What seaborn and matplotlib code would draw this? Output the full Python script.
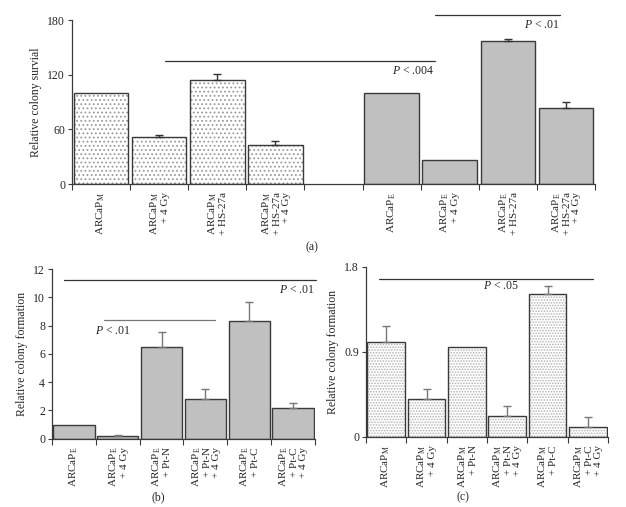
import numpy as np
import pandas as pd
import matplotlib
matplotlib.use("Agg")
import matplotlib.pyplot as plt
from matplotlib.patches import Rectangle
import seaborn as sns

sns.set_style("ticks")
plt.rcParams['font.family'] = ['Liberation Serif', 'DejaVu Serif']
plt.rcParams['mathtext.fontset'] = 'custom'
plt.rcParams['mathtext.rm'] = 'Liberation Serif'
plt.rcParams['mathtext.it'] = 'Liberation Serif:italic'
plt.rcParams['hatch.linewidth'] = 0.8
plt.rcParams['font.size'] = 8

M = r"ARCaP$_{\mathrm{M}}$"
E = r"ARCaP$_{\mathrm{E}}$"

# Panel (a): relative colony survival
a_labels = [M, M + "\n+ 4 Gy", M + "\n+ HS-27a", M + "\n+ HS-27a\n+ 4 Gy", "",
            E, E + "\n+ 4 Gy", E + "\n+ HS-27a", E + "\n+ HS-27a\n+ 4 Gy"]
a_line = ["M", "M", "M", "M", "", "E", "E", "E", "E"]
a_values = [100, 52, 114.5, 42.5, np.nan, 100, 26, 157, 83.5]
a_err = [0, 1.5, 6.5, 4.5, 0, 0, 0, 2.5, 6.5]

# Panel (b): ARCaP_E relative colony formation
b_labels = [E, E + "\n+ 4 Gy", E + "\n+ Pt-N", E + "\n+ Pt-N\n+ 4 Gy", E + "\n+ Pt-C", E + "\n+ Pt-C\n+ 4 Gy"]
b_values = [1.0, 0.22, 6.5, 2.8, 8.3, 2.15]
b_err = [0, 0.07, 1.05, 0.7, 1.35, 0.4]

# Panel (c): ARCaP_M relative colony formation
c_labels = [M, M + "\n+ 4 Gy", M + "\n+ Pt-N", M + "\n+ Pt-N\n+ 4 Gy", M + "\n+ Pt-C", M + "\n+ Pt-C\n+ 4 Gy"]
c_values = [1.0, 0.40, 0.95, 0.22, 1.51, 0.10]
c_err = [0.17, 0.10, 0, 0.105, 0.09, 0.105]

EDGE = "#3a3a3a"
GRAY = "#c0c0c0"

fig = plt.figure(figsize=(6.26, 5.07), dpi=100)
ax_a = fig.add_axes([0.115, 0.637, 0.8355, 0.3235])
ax_b = fig.add_axes([0.0831, 0.1347, 0.4200, 0.3347])
ax_c = fig.add_axes([0.5847, 0.1387, 0.3866, 0.3353])


def draw_panel(ax, labels, values, errs, kinds, hatch, dotcolor, ecolor, ylim, yticks, ylabel):
    df = pd.DataFrame({"group": labels, "value": values, "kind": kinds})
    df = df[df["kind"] != ""]
    sns.barplot(data=df, x="group", y="value", hue="kind", order=labels,
                palette={"M": "white", "E": GRAY}, edgecolor=EDGE, linewidth=1.0,
                width=0.94, legend=False, errorbar=None, ax=ax)
    for p in list(ax.patches):
        if p.get_facecolor()[0] > 0.9:
            # dotted fill in light gray, outline redrawn on top
            p.set_hatch(hatch)
            p.set_edgecolor(dotcolor)
            p.set_linewidth(0)
            ax.add_patch(Rectangle(p.get_xy(), p.get_width(), p.get_height(),
                                   fill=False, edgecolor=EDGE, linewidth=1.0))
    pos = [i for i, v in enumerate(values) if not np.isnan(v) and errs[i] > 0]
    ax.errorbar(pos, [values[i] for i in pos],
                yerr=[np.zeros(len(pos)), [errs[i] for i in pos]],
                fmt="none", ecolor=ecolor, elinewidth=1.0, capsize=3, capthick=1.0)
    n = len(labels)
    ax.set_xlim(-0.5, n - 0.5)
    ax.set_ylim(*ylim)
    ax.set_yticks(yticks)
    ax.set_xticks(range(n))
    ax.set_xticklabels(labels, rotation=90, va="top", ha="center",
                       multialignment="right", linespacing=1.0, fontsize=8)
    ax.set_xticks(np.arange(n + 1) - 0.5, minor=True)
    ax.tick_params(axis="x", which="major", length=0, pad=6)
    ax.tick_params(axis="x", which="minor", length=4, width=0.8, color=EDGE)
    ax.tick_params(axis="y", length=3, width=0.8, color=EDGE, labelsize=8.5, pad=2)
    ax.set_xlabel("")
    ax.set_ylabel(ylabel, fontsize=8.5)
    sns.despine(ax=ax)
    for s in ["left", "bottom"]:
        ax.spines[s].set_color(EDGE)
        ax.spines[s].set_linewidth(0.9)


draw_panel(ax_a, a_labels, a_values, a_err, a_line, "....", "#9a9a9a", "#333333",
           (0, 180), [0, 60, 120, 180], "Relative colony survial")
draw_panel(ax_b, b_labels, b_values, b_err, ["E"] * 6, "....", "#9a9a9a", "#777777",
           (0, 12), range(0, 13, 2), "Relative colony formation")
draw_panel(ax_c, c_labels, c_values, c_err, ["M"] * 6, "......", "#b4b4b4", "#777777",
           (0, 1.8), [0, 0.9, 1.8], "Relative colony formation")
ax_c.set_yticklabels(["0", "0.9", "1.8"])

# significance bars
line_kw = dict(color="#333333", linewidth=0.9, clip_on=False)
ax_a.plot([1.1, 5.74], [134.5, 134.5], **line_kw)
ax_a.text(5.74, 123.7, "$P$ < .004", ha="right", va="center", fontsize=8.5)
ax_a.plot([5.74, 7.9], [186, 186], **line_kw)
ax_a.text(7.9, 174.6, "$P$ < .01", ha="right", va="center", fontsize=8.5)

ax_b.plot([-0.22, 5.52], [11.2, 11.2], **line_kw)
ax_b.text(5.5, 10.5, "$P$ < .01", ha="right", va="center", fontsize=8.5)
ax_b.plot([0.69, 3.23], [8.37, 8.37], color="#777777", linewidth=0.9)
ax_b.text(0.48, 7.64, "$P$ < .01", ha="left", va="center", fontsize=8.5)

ax_c.plot([-0.18, 5.13], [1.667, 1.667], **line_kw)
ax_c.text(2.85, 1.6, "$P$ < .05", ha="center", va="center", fontsize=8.5)

fig.text(312 / 626, 1 - 247 / 507, "(a)", ha="center", va="center", fontsize=8.5)
fig.text(158 / 626, 1 - 497 / 507, "(b)", ha="center", va="center", fontsize=8.5)
fig.text(463 / 626, 1 - 497 / 507, "(c)", ha="center", va="center", fontsize=8.5)

fig.savefig("out.png", dpi=100)
